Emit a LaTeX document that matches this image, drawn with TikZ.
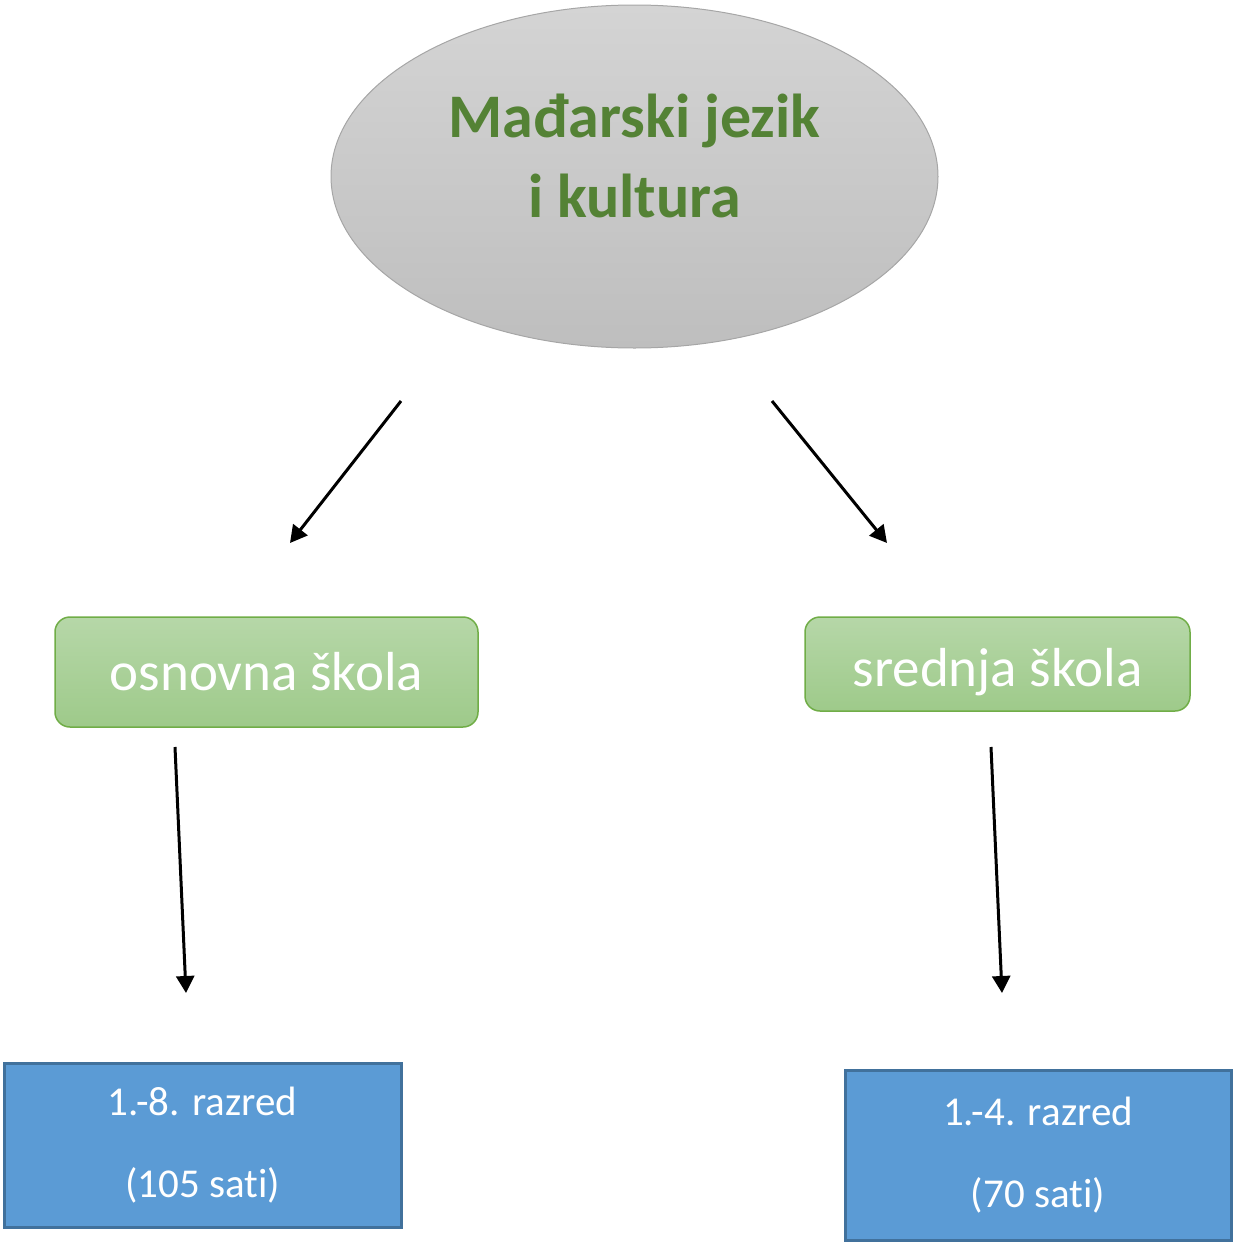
\documentclass[tikz,border=0pt]{standalone}
\usepackage{fontspec}
\setmainfont{Carlito}[Ligatures=NoCommon]
\usepackage{tikz}
\usetikzlibrary{shapes.geometric,arrows.meta}
\definecolor{titlegreen}{HTML}{548235}
\definecolor{boxgreen}{HTML}{70AD47}
\definecolor{boxblue}{HTML}{5B9BD5}
\definecolor{edgeblue}{HTML}{41719C}

\begin{document}
\begin{tikzpicture}[x=1pt,y=-1pt]
\tikzstyle{every node}+=[inner sep=0pt]
\tikzstyle{subject}=[ellipse,draw={rgb,255:red,166;green,166;blue,166},line width=1pt,top color={rgb,255:red,212;green,212;blue,212},bottom color={rgb,255:red,190;green,190;blue,190},minimum width=607pt,minimum height=343pt,text=titlegreen,font=\fontsize{62}{80}\selectfont\bfseries,align=center,text depth=41pt]
\tikzstyle{school}=[rectangle,rounded corners=15pt,draw=boxgreen,line width=1.5pt,top color={rgb,255:red,182;green,215;blue,168},bottom color={rgb,255:red,158;green,202;blue,138},text=white,font=\fontsize{55}{62}\selectfont]
\tikzstyle{grade}=[rectangle,draw=edgeblue,line width=3pt,fill=boxblue,text=white,font=\fontsize{41}{82}\selectfont,align=center]
\tikzstyle{link}=[black,line width=3pt,-{Triangle[length=17pt,width=18pt]}]
\useasboundingbox (0,0) rectangle (1242,1245);
% main subject
\node [subject] (lang) at (634.5,176.5) {Mađarski jezik\\i kultura};
% schools
\node [school,minimum width=423pt,minimum height=110pt] (primary) at (266.5,672) {osnovna škola};
\node [school,minimum width=385pt,minimum height=94pt,text height=56pt,text depth=12pt] (secondary) at (997.5,664) {srednja škola};
% grades
\node [grade,minimum width=397pt,minimum height=164pt] (primgrades) at (202.5,1145) {1.-8. razred\\(105 sati)};
\node [grade,minimum width=386pt,minimum height=170pt] (secgrades) at (1038,1155) {1.-4. razred\\(70 sati)};
% arrow ends
\coordinate (a1) at (401,401);
\coordinate (b1) at (290,543);
\coordinate (a2) at (772,401);
\coordinate (b2) at (887,543);
\coordinate (a3) at (175,747);
\coordinate (b3) at (186,993);
\coordinate (a4) at (991,747);
\coordinate (b4) at (1002,993);
\draw [link] (a1) -- (b1);
\draw [link] (a2) -- (b2);
\draw [link] (a3) -- (b3);
\draw [link] (a4) -- (b4);
\end{tikzpicture}
\end{document}
